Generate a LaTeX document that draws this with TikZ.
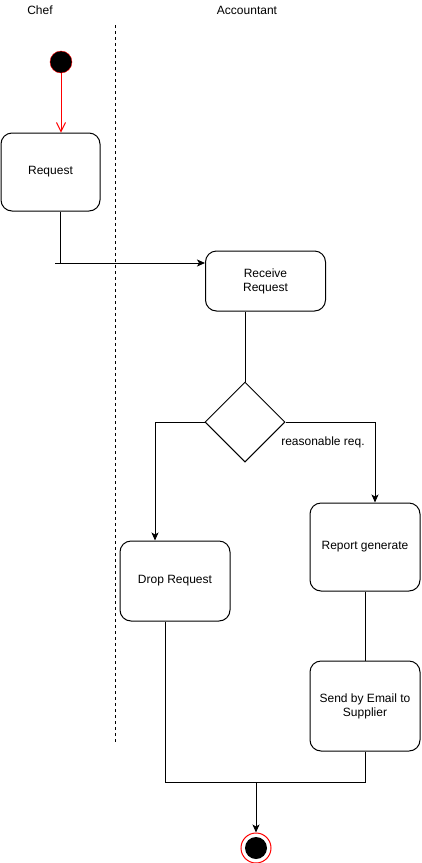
\documentclass[tikz,border=0pt]{standalone}
\usepackage{fontspec}
\setmainfont{Liberation Sans}
\usetikzlibrary{arrows.meta,shapes.geometric}

\tikzset{
	activity/.style={draw, rounded corners=11pt, line width=1pt, align=center, inner sep=2pt},
	flow/.style={line width=1pt, -{Stealth[length=8pt, width=7pt, inset=2pt]}},
	plain/.style={line width=1pt}
}

\begin{document}
\begin{tikzpicture}[x=1pt, y=-1pt, font=\fontsize{12}{14}\selectfont]
	\useasboundingbox (0,0) rectangle (421,863);

		% lanes
		\node (chef) at (40,10) {Chef};
		\node (accountant) at (247,10) {Accountant};
		\draw[line width=1pt, dash pattern=on 3pt off 3pt] (115,25) -- (115,742); % divider

		% start / end
		\node[circle, draw=red, fill=black, minimum size=22pt, inner sep=0pt] (start) at (61,62) {};
		\node[circle, draw=red, line width=1pt, minimum size=30pt, inner sep=0pt] (final) at (256,848) {};
		\fill[black] (final) circle (11); % inner dot

		% activities
		\node[activity, minimum width=99pt, minimum height=78pt] (request) at (50.5,172) {Request};
		\node[activity, minimum width=120pt, minimum height=60pt] (receive) at (265.5,281) {Receive\\Request};
		\node[diamond, draw, line width=1pt, minimum width=80pt, minimum height=80pt, inner sep=0pt] (check) at (245,422) {};
		\node[activity, minimum width=110pt, minimum height=80pt] (drop) at (175,581) {Drop Request};
		\node[activity, minimum width=110pt, minimum height=88pt] (report) at (365,547) {Report generate};
		\node[activity, minimum width=110pt, minimum height=90pt] (email) at (365,706) {Send by Email to\\Supplier};

		% junctions
		\coordinate (split) at (60,263);
		\coordinate (splitstart) at (55,263);
		\coordinate (merge) at (256,782);

		% connectors
		\draw[red, line width=1pt, -{Straight Barb[length=9pt, width=9pt]}] (start) -- (start |- request.north);
		\draw[plain] (request.south -| split) -- (split);
		\draw[flow] (splitstart) -- (splitstart -| receive.west);
		\draw[plain] (check.north |- receive.south) -- (check.north);
		\draw[flow] (check.west) -| ([xshift=-20pt]drop.north);
		\draw[flow] (check.east) -| ([xshift=10pt]report.north);
		\node (reasonable) at (323,442) {reasonable req.};
		\draw[plain] (report.south) -- (email.north);
		\draw[plain] ([xshift=-10pt]drop.south) |- (merge);
		\draw[plain] (email.south) |- (merge);
		\draw[flow] (merge) -- (merge |- final.north);

\end{tikzpicture}
\end{document}
